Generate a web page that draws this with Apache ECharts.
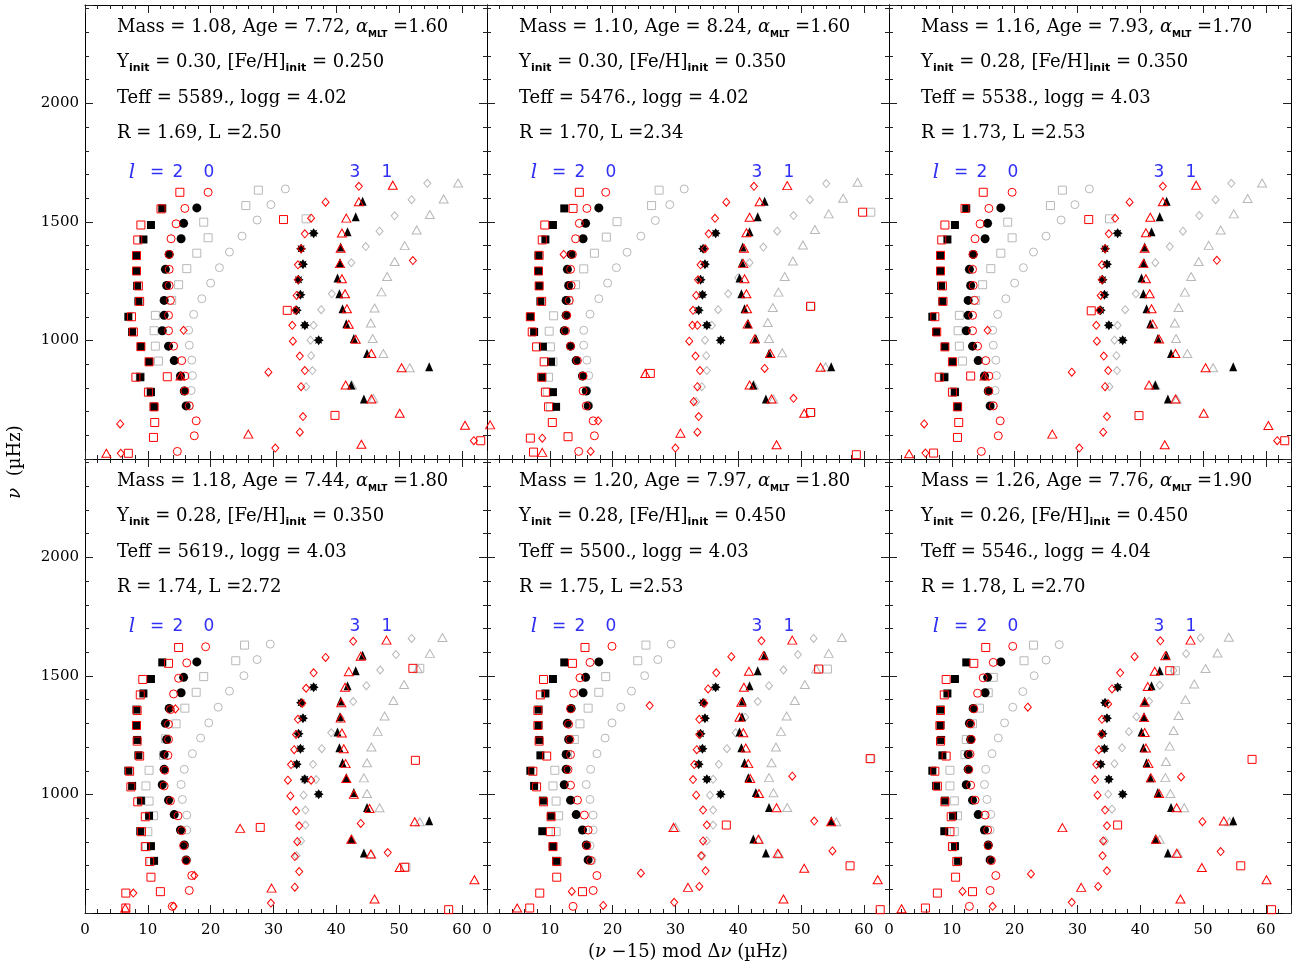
<!DOCTYPE html>
<html>
<head>
<meta charset="utf-8">
<title>Echelle diagrams</title>
<script src="https://cdn.jsdelivr.net/npm/echarts@6.0.0/dist/echarts.min.js"></script>
<style>
  html, body { margin: 0; padding: 0; background: #fff; }
  #chart { width: 1300px; height: 964px; }
</style>
</head>
<body>
<div id="chart"></div>
<script>
// model parameters shown in each panel
const masses = ['1.08', '1.10', '1.16', '1.18', '1.20', '1.26'];
const ages = ['7.72', '8.24', '7.93', '7.44', '7.97', '7.76'];
const alphas = ['1.60', '1.60', '1.70', '1.80', '1.80', '1.90'];
const yInit = ['0.30', '0.30', '0.28', '0.28', '0.28', '0.26'];
const fehInit = ['0.250', '0.350', '0.350', '0.350', '0.450', '0.450'];
const teffs = ['5589.', '5476.', '5538.', '5619.', '5500.', '5546.'];
const loggs = ['4.02', '4.02', '4.03', '4.03', '4.03', '4.04'];
const radii = ['1.69', '1.70', '1.73', '1.74', '1.75', '1.78'];
const lums = ['2.50', '2.34', '2.53', '2.72', '2.53', '2.70'];

// observed frequencies (black), [x mod dnu, nu]
const obsL0 = [[17.8,1559],[15.7,1494],[15.3,1429],[13.4,1363],[12.8,1300],[13.0,1232],[12.6,1169],[12.6,1106],[12.3,1041],[13.3,976],[14.2,915],[15.2,850],[15.8,787],[16.1,724]];
const obsL1 = [[44.2,1587],[43.1,1522],[41.8,1459],[40.7,1394],[40.6,1328],[40.2,1263],[40.5,1197],[41.0,1134],[41.6,1071],[42.8,1008],[44.9,945],[54.8,889],[42.4,812],[44.4,753]];
const obsL2 = [[12.3,1557],[10.5,1487],[9.3,1426],[8.2,1358],[8.2,1293],[8.3,1230],[8.5,1165],[6.9,1100],[7.5,1036],[8.9,974],[10.2,910],[8.8,845],[10.5,782],[11.0,720]];
const obsL3 = [[36.4,1452],[34.4,1387],[34.7,1321],[34.0,1256],[34.3,1193],[33.7,1127],[35.0,1064],[37.2,1001]];

// panel 1 : red = model, gray = uncorrected model
const m1L0 = [[19.6,1625],[15.9,1557],[14.5,1492],[13.7,1429],[13.4,1363],[13.4,1300],[13.4,1232],[13.6,1169],[13.3,1106],[13.3,1041],[14.1,976],[15.4,915],[15.9,850],[15.9,787],[16.6,724],[17.7,661],[17.4,598],[14.7,532]];
const m1L1 = [[49.0,1655],[43.6,1585],[41.6,1516],[40.9,1453],[40.7,1389],[40.6,1324],[40.9,1260],[41.4,1197],[41.7,1134],[42.0,1068],[43.1,1005],[45.6,945],[50.4,885],[15.2,850],[41.5,812],[45.6,753],[50.1,693],[60.5,642],[26.0,605],[44.0,562],[3.4,524]];
const m1L2 = [[15.1,1625],[12.1,1555],[8.9,1487],[8.4,1424],[8.2,1358],[8.2,1293],[8.5,1230],[8.7,1165],[7.4,1100],[7.7,1036],[8.9,974],[10.2,910],[8.1,845],[13.1,847],[10.1,782],[11.0,720],[11.1,654],[10.9,591],[6.9,524],[31.6,1510],[32.2,1127],[39.8,684],[63.0,577]];
const m1L3 = [[43.6,1650],[38.3,1583],[36.0,1516],[35.0,1450],[34.4,1387],[33.9,1319],[33.9,1256],[33.7,1190],[33.5,1127],[33.0,1064],[33.1,997],[34.2,934],[35.0,873],[29.2,866],[34.4,805],[34.7,679],[34.2,613],[30.3,546],[52.2,1337],[61.9,577],[15.7,1043],[5.6,648],[5.7,524]];
const g1L0 = [[31.9,1639],[29.6,1573],[27.4,1508],[25.0,1440],[23.0,1373],[21.4,1307],[20.0,1242],[18.6,1176],[17.3,1110],[16.5,1043],[16.6,980],[17.0,917],[17.1,852],[16.9,789],[16.6,726]];
const g1L1 = [[59.4,1664],[57.1,1597],[54.9,1531],[52.8,1466],[50.9,1400],[49.3,1333],[48.1,1270],[47.2,1205],[46.1,1137],[45.5,1074],[45.8,1008],[47.5,945],[51.7,885],[42.5,812],[45.9,756]];
const g1L2 = [[27.6,1634],[25.6,1569],[35.2,1513],[18.9,1499],[19.6,1433],[17.8,1368],[16.2,1303],[14.9,1235],[13.8,1169],[11.2,1106],[11.0,1041],[11.2,976],[11.7,913],[8.8,847],[10.4,784],[10.9,721]];
const g1L3 = [[54.5,1663],[52.0,1594],[49.3,1526],[46.9,1461],[44.7,1396],[42.4,1328],[39.3,1197],[37.6,1130],[36.4,1064],[35.9,1001],[36.0,936],[36.2,873],[35.2,805]];

// panel 2
const m2L0 = [[18.9,1625],[15.9,1557],[14.7,1494],[14.1,1429],[13.6,1363],[13.3,1300],[13.4,1232],[13.1,1169],[12.7,1106],[12.5,1041],[13.3,976],[14.4,915],[15.3,850],[15.3,787],[15.8,724],[16.9,661],[17.1,598],[14.6,532]];
const m2L1 = [[47.8,1653],[43.4,1585],[41.8,1520],[41.3,1454],[40.9,1389],[40.8,1324],[41.0,1260],[41.3,1197],[41.4,1134],[41.5,1069],[42.6,1006],[45.1,945],[53.1,887],[25.2,861],[41.8,812],[45.3,753],[50.5,693],[0.5,644],[30.8,609],[46.1,560],[8.8,528]];
const m2L2 = [[14.7,1625],[13.7,1557],[9.2,1487],[8.8,1424],[8.3,1359],[8.2,1293],[8.3,1230],[8.7,1165],[6.9,1100],[7.2,1036],[7.9,973],[9.1,910],[8.7,845],[9.3,782],[9.8,720],[10.4,654],[6.9,588],[12.9,594],[7.4,529],[26.0,861],[59.8,1541],[51.5,1144],[51.5,696],[58.8,518]];
const m2L3 = [[42.5,1650],[38.1,1583],[36.3,1515],[35.3,1450],[34.7,1387],[34.0,1319],[33.6,1256],[33.3,1190],[32.8,1127],[32.7,1064],[33.5,1064],[32.2,997],[33.2,934],[33.9,873],[44.2,882],[33.5,805],[32.9,742],[48.8,756],[33.7,679],[33.5,613],[30.0,546],[12.2,1363],[8.8,588],[16.5,532],[17.7,661]];
const g2L0 = [[31.4,1639],[29.1,1573],[26.8,1506],[24.5,1440],[22.3,1372],[20.6,1307],[19.2,1242],[17.8,1176],[16.4,1111],[15.4,1043],[15.4,980],[15.9,917],[16.2,852],[15.9,789],[16.2,726]];
const g2L1 = [[59.0,1667],[56.7,1600],[54.4,1534],[52.2,1468],[50.3,1403],[48.7,1335],[47.4,1270],[46.4,1204],[45.5,1139],[44.7,1076],[44.9,1008],[47.0,948],[53.9,889],[42.5,812],[45.6,753]];
const g2L2 = [[27.4,1634],[26.2,1569],[20.7,1501],[19.0,1436],[17.1,1368],[15.4,1302],[14.1,1235],[13.0,1169],[10.6,1104],[9.9,1039],[10.1,973],[10.5,910],[9.8,845],[9.6,782],[10.1,720],[61.1,1541],[51.6,1144],[51.6,696]];
const g2L3 = [[54.0,1662],[51.4,1594],[48.8,1527],[46.2,1461],[44.0,1394],[41.8,1328],[40.0,1265],[38.4,1197],[36.8,1130],[35.8,1064],[34.7,1001],[34.9,936],[35.0,873],[34.2,805],[33.3,742]];

// panel 3
const m3L0 = [[19.6,1625],[15.9,1557],[14.5,1492],[13.7,1429],[13.4,1363],[13.3,1300],[13.4,1232],[13.6,1169],[13.3,1106],[13.3,1041],[14.1,976],[15.4,915],[15.9,850],[15.9,787],[16.6,724],[17.7,661],[17.4,598],[14.7,532]];
const m3L1 = [[48.9,1655],[43.6,1585],[41.6,1520],[40.9,1454],[40.7,1389],[40.5,1324],[40.9,1260],[41.5,1197],[41.8,1134],[42.0,1069],[43.0,1006],[45.6,945],[50.4,885],[15.2,850],[41.4,812],[45.6,753],[50.1,693],[60.4,641],[26.0,605],[43.9,560],[3.2,522]];
const m3L2 = [[15.0,1625],[12.1,1557],[8.9,1487],[8.4,1424],[8.2,1359],[8.2,1293],[8.5,1230],[8.6,1165],[7.3,1100],[7.6,1036],[8.9,973],[10.1,910],[8.0,845],[13.0,850],[10.1,782],[10.9,720],[11.1,654],[10.9,591],[7.1,525],[31.8,1510],[32.2,1125],[39.8,683],[63.0,577]];
const m3L3 = [[43.6,1650],[38.3,1583],[36.0,1515],[35.0,1450],[34.4,1387],[33.9,1319],[33.9,1256],[33.7,1190],[33.5,1127],[33.0,1064],[33.1,997],[34.2,934],[34.9,873],[29.1,866],[34.4,805],[34.7,679],[34.1,613],[30.3,546],[52.2,1338],[61.8,577],[15.7,1043],[5.6,648],[5.8,525]];
const g3L0 = [[31.9,1639],[29.6,1573],[27.4,1508],[25.0,1440],[23.0,1373],[21.4,1307],[20.0,1242],[18.6,1176],[17.3,1110],[16.5,1043],[16.6,980],[17.0,917],[17.1,852],[16.9,789],[16.6,726]];
const g3L1 = [[59.4,1664],[57.1,1599],[54.9,1534],[52.8,1466],[50.9,1401],[49.3,1333],[48.1,1270],[47.1,1204],[46.1,1139],[45.5,1074],[45.7,1008],[47.5,945],[51.6,885],[42.4,812],[45.8,753]];
const g3L2 = [[27.6,1634],[25.7,1569],[35.1,1513],[18.9,1499],[19.6,1433],[17.8,1368],[16.2,1303],[14.9,1235],[13.8,1169],[11.2,1106],[11.0,1041],[11.2,976],[11.7,913],[8.8,847],[10.4,784],[10.9,721]];
const g3L3 = [[54.5,1663],[52.0,1594],[49.4,1527],[46.8,1461],[44.7,1396],[42.4,1328],[39.3,1197],[37.6,1130],[36.4,1064],[35.9,1001],[36.2,936],[36.3,873],[35.1,805]];

// panel 4
const m4L0 = [[19.2,1623],[16.2,1555],[14.9,1490],[14.1,1424],[13.6,1358],[13.3,1296],[13.3,1232],[13.2,1165],[12.7,1102],[12.6,1036],[13.6,973],[14.8,910],[15.4,847],[15.7,784],[16.1,721],[17.0,658],[16.6,595],[13.9,528]];
const m4L1 = [[48.0,1651],[43.9,1583],[42.0,1518],[41.4,1452],[40.8,1387],[40.7,1322],[40.9,1259],[41.2,1193],[41.5,1130],[41.6,1067],[42.8,1001],[45.3,941],[52.5,885],[24.7,857],[42.4,811],[45.5,749],[50.1,692],[62.0,640],[29.7,605],[46.1,559],[6.4,521]];
const m4L2 = [[14.9,1620],[13.3,1553],[9.2,1485],[8.8,1420],[8.3,1354],[8.2,1291],[8.3,1225],[8.7,1162],[7.1,1098],[7.3,1032],[8.4,969],[9.6,906],[9.0,843],[9.6,780],[10.3,717],[10.5,651],[6.5,584],[12.0,590],[6.5,521],[27.9,861],[52.2,1532],[52.6,1144],[50.9,693],[57.9,514]];
const m4L3 = [[42.7,1646],[38.3,1578],[36.4,1513],[35.2,1448],[34.6,1385],[33.9,1317],[33.6,1253],[33.3,1189],[32.8,1126],[32.3,1060],[36.0,1060],[32.7,994],[33.6,931],[34.1,868],[43.9,878],[33.8,801],[33.4,738],[48.2,755],[34.1,675],[33.4,609],[29.6,542],[14.4,1361],[17.4,658],[7.7,584],[14.1,528]];
const g4L0 = [[29.5,1634],[27.4,1569],[25.3,1501],[23.0,1436],[21.2,1368],[19.7,1302],[18.4,1238],[17.1,1172],[15.8,1106],[15.3,1042],[15.5,979],[16.2,913],[16.2,850],[15.9,784],[16.2,721]];
const g4L1 = [[56.9,1662],[54.9,1595],[53.0,1530],[50.8,1464],[49.1,1396],[47.7,1331],[46.6,1266],[45.6,1200],[44.9,1134],[44.4,1070],[44.9,1004],[46.9,944],[53.3,885],[42.5,811],[45.6,749]];
const g4L2 = [[25.4,1630],[24.0,1564],[18.9,1497],[17.7,1431],[15.9,1364],[14.5,1298],[12.8,1235],[12.5,1165],[10.2,1102],[9.7,1036],[10.2,972],[10.9,910],[10.0,843],[9.8,780],[10.5,717],[53.3,1532],[51.1,693]];
const g4L3 = [[52.0,1658],[49.5,1590],[47.0,1525],[44.8,1459],[42.7,1392],[40.7,1322],[39.2,1260],[37.7,1193],[36.3,1127],[34.8,1063],[36.8,1063],[34.8,997],[35.1,934],[35.1,871],[34.4,804],[33.7,741]];

// panel 5
const m5L0 = [[19.9,1625],[16.4,1557],[14.8,1492],[13.8,1427],[13.3,1361],[13.0,1296],[13.2,1232],[13.3,1168],[12.9,1105],[13.3,1039],[14.4,976],[15.5,913],[16.1,850],[15.9,784],[16.5,721],[17.5,658],[16.9,595],[13.7,528]];
const m5L1 = [[48.6,1651],[44.0,1585],[41.7,1520],[40.9,1452],[40.5,1389],[40.2,1326],[40.8,1260],[41.2,1196],[41.6,1130],[41.9,1067],[43.3,1004],[46.1,944],[54.8,885],[29.7,861],[43.2,811],[46.3,752],[50.5,689],[62.2,640],[32.0,608],[47.2,559],[4.8,521]];
const m5L2 = [[15.6,1620],[13.6,1553],[9.0,1485],[8.5,1420],[8.1,1354],[8.1,1291],[8.3,1225],[9.5,1162],[7.3,1098],[7.9,1032],[9.0,969],[10.2,906],[10.1,843],[10.5,780],[11.1,717],[11.1,651],[8.4,584],[15.2,590],[6.8,521],[38.1,871],[52.8,1529],[61.0,1151],[57.8,699],[62.6,514]];
const m5L3 = [[43.7,1648],[38.9,1581],[36.5,1513],[35.2,1445],[34.6,1385],[33.8,1317],[33.8,1253],[33.4,1189],[33.0,1126],[32.8,1063],[33.3,997],[34.4,934],[35.0,871],[34.4,804],[34.1,741],[34.8,678],[33.8,612],[29.8,545],[25.9,1375],[48.6,1077],[52.1,888],[55.0,762],[24.5,668],[13.5,591],[18.5,532]];
const g5L0 = [[29.3,1634],[27.2,1569],[25.1,1501],[23.0,1436],[21.3,1368],[19.9,1302],[18.8,1238],[17.5,1172],[16.5,1106],[15.8,1042],[16.4,979],[16.9,913],[16.9,850],[16.4,784],[16.7,721]];
const g5L1 = [[56.5,1662],[54.4,1595],[52.4,1529],[50.6,1464],[49.0,1396],[47.7,1331],[46.8,1266],[46.0,1200],[45.3,1134],[44.9,1071],[45.6,1007],[47.8,945],[55.6,885],[30.0,861],[43.3,811],[46.5,749]];
const g5L2 = [[25.3,1630],[24.0,1564],[18.9,1497],[17.8,1431],[16.1,1364],[14.8,1298],[13.9,1232],[12.8,1168],[10.8,1102],[10.5,1036],[11.0,972],[11.4,910],[11.0,843],[10.5,780],[11.2,717],[54.2,1529],[61.1,1151]];
const g5L3 = [[52.0,1658],[49.5,1590],[47.2,1525],[44.9,1459],[43.1,1392],[41.1,1326],[39.6,1260],[38.2,1193],[36.9,1127],[36.0,1064],[35.5,997],[36.0,934],[36.0,871],[35.0,804],[34.3,741]];

// panel 6
const m6L0 = [[19.7,1625],[16.6,1557],[15.0,1492],[14.1,1427],[13.5,1361],[13.0,1298],[13.1,1232],[12.9,1170],[12.7,1105],[13.0,1039],[13.7,976],[15.3,913],[15.7,850],[15.8,784],[16.3,721],[17.0,658],[16.1,595],[12.8,528]];
const m6L1 = [[48.0,1651],[44.0,1585],[42.3,1520],[41.2,1455],[40.7,1389],[40.6,1324],[40.7,1261],[40.9,1196],[41.3,1130],[41.7,1070],[43.0,1004],[45.8,944],[53.3,888],[27.6,860],[42.5,811],[45.8,752],[49.8,692],[60.1,640],[30.6,608],[46.4,559],[2.0,518]];
const m6L2 = [[15.4,1620],[13.5,1553],[9.1,1485],[8.8,1420],[8.2,1354],[8.1,1291],[8.2,1225],[9.1,1162],[7.3,1098],[7.7,1035],[8.9,969],[9.9,906],[9.7,843],[10.1,780],[10.8,717],[10.6,651],[7.7,584],[13.3,590],[5.8,521],[36.4,871],[44.7,1522],[57.8,1148],[56.0,699],[60.9,514]];
const m6L3 = [[43.2,1648],[39.1,1581],[36.8,1513],[35.5,1445],[34.9,1382],[33.9,1317],[33.8,1253],[33.4,1189],[33.0,1126],[32.8,1063],[33.2,997],[34.4,934],[34.7,868],[34.1,804],[34.0,741],[34.7,678],[33.3,612],[29.1,545],[22.1,1368],[46.5,1074],[49.9,885],[52.8,759],[22.6,665],[11.7,591],[16.5,528]];
const g6L0 = [[27.1,1632],[25.0,1567],[23.1,1501],[21.3,1434],[19.7,1368],[18.4,1302],[17.4,1238],[16.4,1172],[15.4,1106],[15.2,1042],[15.6,979],[16.2,916],[16.1,850],[15.8,784],[16.2,721]];
const g6L1 = [[54.1,1663],[52.3,1597],[50.4,1531],[48.6,1466],[47.2,1400],[46.1,1333],[45.3,1270],[44.7,1204],[44.1,1139],[44.0,1071],[44.8,1004],[47.0,944],[54.2,885],[43.1,811],[46.0,752]];
const g6L2 = [[23.0,1630],[21.5,1564],[16.6,1494],[15.8,1429],[14.4,1364],[13.3,1298],[12.3,1232],[12.1,1168],[9.7,1102],[9.7,1036],[10.4,973],[10.9,910],[10.4,843],[10.2,780],[10.8,717],[45.6,1522]];
const g6L3 = [[49.6,1660],[47.3,1594],[45.3,1523],[43.1,1461],[41.4,1393],[39.4,1328],[38.2,1265],[37.1,1197],[35.9,1130],[34.9,1001],[35.5,938],[34.4,804]];

const redModels = [
  [m1L0, m1L1, m1L2, m1L3], [m2L0, m2L1, m2L2, m2L3], [m3L0, m3L1, m3L2, m3L3],
  [m4L0, m4L1, m4L2, m4L3], [m5L0, m5L1, m5L2, m5L3], [m6L0, m6L1, m6L2, m6L3]
];
const grayModels = [
  [g1L0, g1L1, g1L2, g1L3], [g2L0, g2L1, g2L2, g2L3], [g3L0, g3L1, g3L2, g3L3],
  [g4L0, g4L1, g4L2, g4L3], [g5L0, g5L1, g5L2, g5L3], [g6L0, g6L1, g6L2, g6L3]
];
const observed = [obsL0, obsL1, obsL2, obsL3];

// layout
const panelLefts = [85, 487, 889];
const panelTops = [5, 459];
const panelW = 402;
const panelH = 454;

const RED = '#ff0000';
const GRAY = '#b8b8b8';
const BLUE = '#2f2ff5';
const SERIF = 'DejaVu Serif';
const starPath = 'path://M0,-10 L3,-5.5 L7,-7 L5.5,-3 L10,0 L5.5,3 L7,7 L3,5.5 L0,10 L-3,5.5 L-7,7 L-5.5,3 L-10,0 L-5.5,-3 L-7,-7 L-3,-5.5 Z';

// open symbols for models, filled for observations (order l=0,1,2,3)
const openSymbols = [
  { symbol: 'circle', size: 8 },
  { symbol: 'triangle', size: [9, 8] },
  { symbol: 'rect', size: 8 },
  { symbol: 'diamond', size: [7, 8] }
];
const filledSymbols = [
  { symbol: 'circle', size: 9 },
  { symbol: 'triangle', size: [8, 9] },
  { symbol: 'rect', size: 8 },
  { symbol: starPath, size: 10 }
];

const grids = [];
const xAxes = [];
const yAxes = [];
const series = [];
const graphics = [];

const lineStyle = { color: '#000', width: 1 };
const tickStyle = { color: '#222', width: 1 };

function xAxisSet(gi, showLabels) {
  const base = { gridIndex: gi, type: 'value', min: 0, max: 64, splitLine: { show: false } };
  const make = (position, interval, major) => ({
    ...base, position, interval,
    axisLine: { show: major, onZero: false, lineStyle },
    axisTick: { show: true, inside: true, length: major ? 8 : 4, lineStyle: tickStyle },
    axisLabel: {
      show: major && position === 'bottom' && showLabels,
      margin: 10, fontFamily: SERIF, fontSize: 15, color: '#000',
      formatter: v => (v % 10 === 0 ? String(v) : '')
    }
  });
  return [make('bottom', 10, true), make('bottom', 2, false), make('top', 10, true), make('top', 2, false)];
}

function yAxisSet(gi, showLabels) {
  const base = { gridIndex: gi, type: 'value', min: 500, max: 2415, splitLine: { show: false } };
  const make = (position, interval, major) => ({
    ...base, position, interval,
    axisLine: { show: major, onZero: false, lineStyle },
    axisTick: { show: true, inside: true, length: major ? 8 : 4, lineStyle: tickStyle },
    axisLabel: {
      show: major && position === 'left' && showLabels,
      margin: 6, fontFamily: SERIF, fontSize: 15, color: '#000',
      formatter: v => (v >= 1000 && v % 500 === 0 ? String(v) : '')
    }
  });
  return [make('left', 500, true), make('left', 100, false), make('right', 500, true), make('right', 100, false)];
}

function scatter(gi, data, sym, color, filled) {
  return {
    type: 'scatter', xAxisIndex: gi * 4, yAxisIndex: gi * 4,
    data, symbol: sym.symbol, symbolSize: sym.size, silent: true,
    itemStyle: filled
      ? { color, opacity: 1 }
      : { color: 'rgba(0,0,0,0)', borderColor: color, borderWidth: 1, opacity: 1 }
  };
}

function txt(x, y, text, extra) {
  return {
    type: 'text', x, y, silent: true,
    style: Object.assign({
      text, fill: '#000', fontFamily: SERIF, fontSize: 18,
      align: 'left', verticalAlign: 'middle'
    }, extra || {})
  };
}

const richParams = {
  g: { fontFamily: SERIF, fontStyle: 'italic', fontSize: 18, lineHeight: 24 },
  m: { fontFamily: 'DejaVu Sans', fontWeight: 'bold', fontSize: 9, lineHeight: 13, verticalAlign: 'bottom' },
  s: { fontFamily: 'DejaVu Sans', fontWeight: 'bold', fontSize: 11, lineHeight: 14, verticalAlign: 'bottom' }
};

for (let gi = 0; gi < 6; gi++) {
  const col = gi % 3;
  const row = Math.floor(gi / 3);
  const left = panelLefts[col];
  const top = panelTops[row];

  grids.push({ left, top, width: panelW, height: panelH, show: false, outerBoundsMode: 'none' });
  xAxes.push(...xAxisSet(gi, row === 1));
  yAxes.push(...yAxisSet(gi, col === 0));

  // gray first, then black observations, red models on top (open marks)
  [2, 0, 3, 1].forEach(l => series.push(scatter(gi, grayModels[gi][l], openSymbols[l], GRAY, false)));
  [2, 0, 3, 1].forEach(l => series.push(scatter(gi, observed[l], filledSymbols[l], '#000', true)));
  [2, 0, 3, 1].forEach(l => series.push(scatter(gi, redModels[gi][l], openSymbols[l], RED, false)));

  // parameter text
  const tx = left + 32;
  const lineOpts = { lineHeight: 24, rich: richParams };
  graphics.push(txt(tx, top + 22,
    'Mass = ' + masses[gi] + ', Age = ' + ages[gi] + ', {g|α}{m|MLT} =' + alphas[gi], lineOpts));
  graphics.push(txt(tx, top + 57,
    'Y{s|init} = ' + yInit[gi] + ', [Fe/H]{s|init} = ' + fehInit[gi], lineOpts));
  graphics.push(txt(tx, top + 93, 'Teff = ' + teffs[gi] + ', logg = ' + loggs[gi], lineOpts));
  graphics.push(txt(tx, top + 128, 'R = ' + radii[gi] + ', L =' + lums[gi], lineOpts));

  // degree labels
  const ly = top + 168;
  const blueSans = { fill: BLUE, fontFamily: 'DejaVu Sans', fontSize: 17, align: 'center' };
  graphics.push(txt(left + 47, ly, 'l', { fill: BLUE, fontFamily: SERIF, fontStyle: 'italic', fontSize: 20, align: 'center' }));
  graphics.push(txt(left + 72, ly, '=', blueSans));
  graphics.push(txt(left + 93, ly, '2', blueSans));
  graphics.push(txt(left + 124, ly, '0', blueSans));
  graphics.push(txt(left + 270, ly, '3', blueSans));
  graphics.push(txt(left + 302, ly, '1', blueSans));
}

// axis titles
const nuRich = { n: { fontFamily: SERIF, fontStyle: 'italic', fontSize: 18 } };
graphics.push(txt(688, 952, '({n|ν} −15) mod Δ{n|ν} (µHz)', { align: 'center', rich: nuRich }));
graphics.push(Object.assign(txt(15, 462, '{n|ν}  (µHz)', { align: 'center', rich: nuRich }), { rotation: Math.PI / 2 }));

const chart = echarts.init(document.getElementById('chart'), null, { renderer: 'canvas' });
chart.setOption({
  animation: false,
  backgroundColor: '#fff',
  grid: grids,
  xAxis: xAxes,
  yAxis: yAxes,
  series,
  graphic: graphics
});
</script>
</body>
</html>
